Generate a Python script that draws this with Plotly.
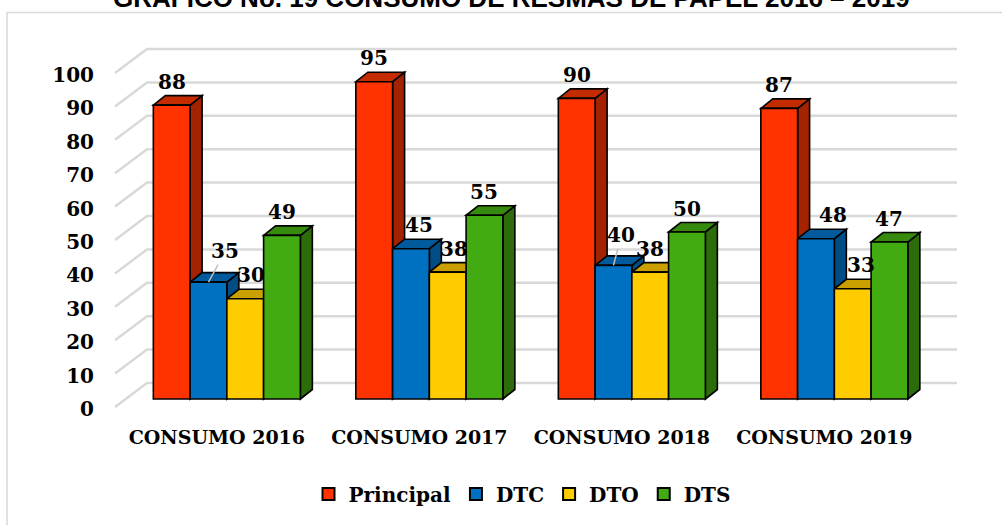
import plotly.graph_objects as go

# ---- data -------------------------------------------------------------
categories = ["CONSUMO 2016", "CONSUMO 2017", "CONSUMO 2018", "CONSUMO 2019"]
series_names = ["Principal", "DTC", "DTO", "DTS"]
principal = [88, 95, 90, 87]
dtc = [35, 45, 40, 48]
dto = [30, 38, 38, 33]
dts = [49, 55, 50, 47]
y_ticks = list(range(0, 101, 10))

title_text = "GRÁFICO No. 19 CONSUMO DE RESMAS DE PAPEL 2016 – 2019"

# ---- styling ----------------------------------------------------------
values = [principal, dtc, dto, dts]
front_colors = ["#FF3300", "#0070C0", "#FFCC00", "#43AB12"]
top_colors = ["#C42C00", "#005A9C", "#C9A000", "#368A0E"]
side_colors = ["#A32200", "#004C85", "#B89200", "#2C6C0A"]
outline = "#000000"
grid_color = "#D9D9D9"
serif_bold = dict(family="DejaVu Serif", size=20, color="#000000", weight="bold")
category_font = dict(serif_bold, size=19)

W, H = 1002, 525
margin = dict(l=105, r=37, t=40, b=113)
plot_w = W - margin["l"] - margin["r"]
plot_h = H - margin["t"] - margin["b"]

# pixel scales of the plane holding the bar fronts
band_px = 202.5          # one category band
unit_px = 3.34           # one value unit
left_px = 125.6          # x = -0.5 in the bar plane
zero_px = 399            # y = 0 in the bar plane

x_range = [-0.5 - (left_px - margin["l"]) / band_px,
           -0.5 + (margin["l"] + plot_w - left_px) / band_px]
y_range = [-(margin["t"] + plot_h - zero_px) / unit_px,
           (zero_px - margin["t"]) / unit_px]

# oblique depth offsets (data units)
DX, DY = 12 / band_px, 9.5 / unit_px        # bar depth
BX, BY = 21.4 / band_px, 16 / unit_px       # back wall
FX, FY = -10.6 / band_px, -8 / unit_px      # front floor edge

n_series = len(values)
bargap = 0.274
bar_w = (1 - bargap) / n_series
group_w = bar_w * n_series

fig = go.Figure()

# front faces
for k, (name, vals) in enumerate(zip(series_names, values)):
    fig.add_trace(go.Bar(
        x=list(range(len(categories))), y=vals, name=name,
        width=bar_w, offset=-group_w / 2 + k * bar_w,
        marker=dict(color=front_colors[k], line=dict(color=outline, width=1.6)),
        hoverinfo="skip",
    ))

shapes = []

# walls: gridlines on the left wall and on the back wall
for v in y_ticks:
    shapes.append(dict(
        type="path", xref="x", yref="y", layer="below",
        path=(f"M{-0.5 + FX},{v + FY} L{-0.5 + BX},{v + BY} "
              f"L{len(categories) - 0.5 + BX},{v + BY}"),
        line=dict(color=grid_color, width=2.5),
    ))

# side and top faces, drawn bar by bar from left to right
for c in range(len(categories)):
    for k in range(n_series):
        v = values[k][c]
        x0 = c - group_w / 2 + k * bar_w
        x1 = x0 + bar_w
        shapes.append(dict(
            type="path", xref="x", yref="y", layer="between",
            path=f"M{x1},0 L{x1 + DX},{DY} L{x1 + DX},{v + DY} L{x1},{v} Z",
            fillcolor=side_colors[k], line=dict(color=outline, width=1.6),
        ))
        shapes.append(dict(
            type="path", xref="x", yref="y", layer="between",
            path=(f"M{x0},{v} L{x1},{v} L{x1 + DX},{v + DY} "
                  f"L{x0 + DX},{v + DY} Z"),
            fillcolor=top_colors[k], line=dict(color=outline, width=1.6),
        ))

# chart-area frame
def px_to_paper_x(px):
    return (px - margin["l"]) / plot_w


def px_to_paper_y(py):
    return (margin["t"] + plot_h - py) / plot_h


shapes.append(dict(
    type="rect", xref="paper", yref="paper", layer="below",
    x0=px_to_paper_x(7), x1=px_to_paper_x(1012),
    y0=px_to_paper_y(540), y1=px_to_paper_y(12.5),
    line=dict(color=grid_color, width=1.5), fillcolor="rgba(0,0,0,0)",
))

# value labels
label_nudge = {(2, 0): 6, (1, 1): 8, (2, 1): 6, (1, 3): 17, (2, 3): 8}
leader = {(1, 0): (17, -31), (1, 2): (8, -30)}
annotations = []
for c in range(len(categories)):
    for k in range(n_series):
        v = values[k][c]
        xc = c - group_w / 2 + (k + 0.5) * bar_w
        if (k, c) in leader:
            ax, ay = leader[(k, c)]
            annotations.append(dict(
                x=xc, y=v, xref="x", yref="y", text=str(v),
                showarrow=True, ax=ax, ay=ay, arrowhead=0, arrowwidth=1.5,
                arrowcolor="#BFBFBF", standoff=0, font=serif_bold,
            ))
        else:
            annotations.append(dict(
                x=xc, y=v, xref="x", yref="y", text=str(v),
                showarrow=False, yanchor="middle", yshift=23.5,
                xshift=label_nudge.get((k, c), 0), font=serif_bold,
            ))

annotations.append(dict(
    x=px_to_paper_x(511.5), y=px_to_paper_y(-2), xref="paper", yref="paper",
    text=title_text, showarrow=False, xanchor="center", yanchor="middle",
    font=dict(family="Liberation Sans", size=26, color="#000000", weight="bold"),
))

fig.update_layout(
    width=W, height=H, margin=margin,
    paper_bgcolor="white", plot_bgcolor="rgba(0,0,0,0)",
    barmode="overlay",
    shapes=shapes, annotations=annotations,
    showlegend=True,
    legend=dict(
        orientation="h", x=px_to_paper_x(522), y=px_to_paper_y(494),
        xanchor="center", yanchor="middle", font=serif_bold,
        itemsizing="constant",
    ),
    xaxis=dict(
        range=x_range, tickvals=list(range(len(categories))), ticktext=categories,
        showgrid=False, zeroline=False, showline=False, ticks="",
        tickfont=category_font, ticklabelshift=-10, ticklabelstandoff=12,
        fixedrange=True,
    ),
    yaxis=dict(
        range=y_range, tickvals=y_ticks, showgrid=False, zeroline=False,
        showline=False, ticks="", tickfont=serif_bold,
        ticklabelshift=10, ticklabelstandoff=10, fixedrange=True,
    ),
)

fig.write_html("out.html")
